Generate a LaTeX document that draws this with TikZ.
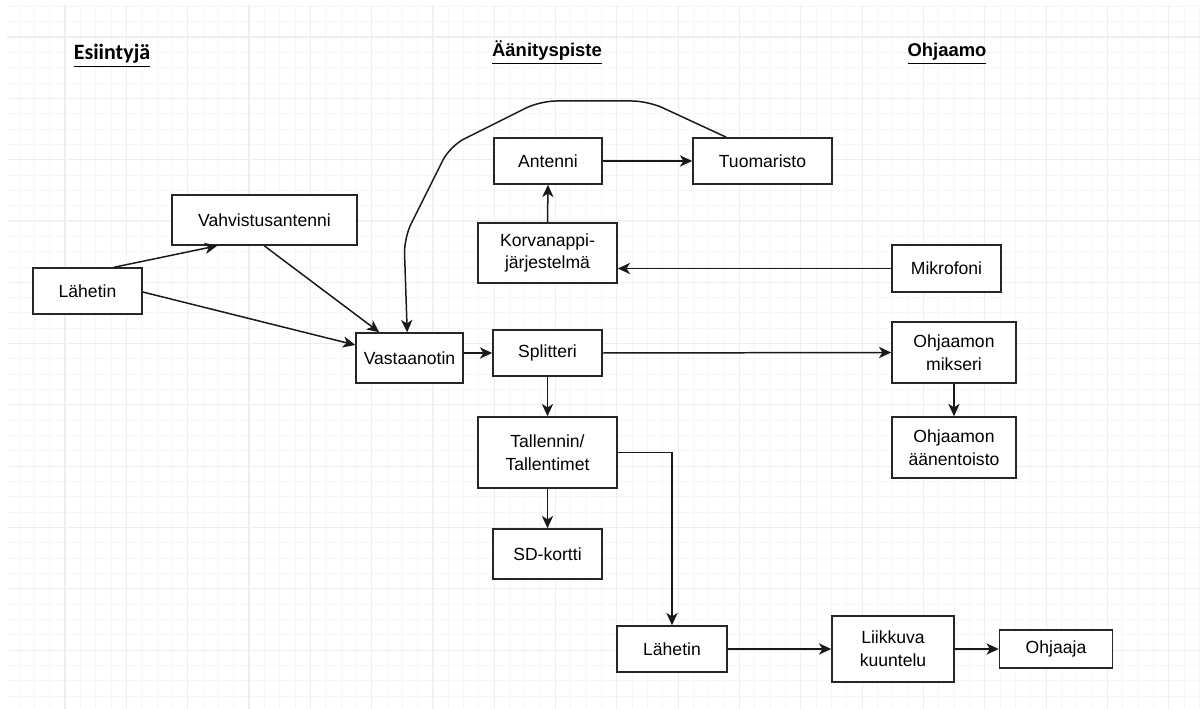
\documentclass[tikz,border=0pt]{standalone}
\usepackage{fontspec}
\setmainfont{Liberation Sans}
\newfontfamily\calibri{Carlito}
\usepackage{xcolor}
\usetikzlibrary{arrows.meta, calc}

\definecolor{gridminor}{HTML}{F6F6F6}
\definecolor{gridmajor}{HTML}{EEEEEE}

\tikzset{
  box/.style={draw=black!85, line width=0.9pt, fill=white, align=center,
    font=\fontsize{10}{13}\selectfont, inner sep=2pt},
  arr/.style={-{Stealth[length=7pt,width=6.4pt,inset=2pt]}, line width=0.85pt, black!90},
  header/.style={anchor=base, font=\bfseries\fontsize{10.5}{12}\selectfont}
}

\begin{document}
\begin{tikzpicture}[x=0.02cm,y=-0.02cm]
\useasboundingbox (0,0) rectangle (1200,709);

% Grid
\begin{scope}
\clip (7,6) rectangle (1200,709);
\foreach \i in {0,...,78} \draw[gridminor, line width=0.5pt] ({3.7+15.33*\i},0) -- ++(0,720);
\foreach \j in {0,...,46} \draw[gridminor, line width=0.5pt] (0,{6.34+15.33*\j}) -- ++(1210,0);
\foreach \i in {0,...,19} \draw[gridmajor, line width=0.6pt] ({3.7+61.32*\i},0) -- ++(0,720);
\foreach \j in {-1,...,11} \draw[gridmajor, line width=0.6pt] (0,{37+61.32*\j}) -- ++(1210,0);
\end{scope}

% Headers
\node[header, font=\calibri\bfseries\fontsize{12.5}{14}\selectfont] (hEsi) at (112,60) {\underline{Esiintyjä}};
\node[header] (hAan) at (547,57) {\underline{Äänityspiste}};
\node[header] (hOhj) at (947,57) {\underline{Ohjaamo}};

% Boxes
\node[box, minimum width=3.7cm, minimum height=1.0cm] (vahv) at (264.5,220) {Vahvistusantenni};
\node[box, minimum width=2.18cm, minimum height=0.92cm] (lah1) at (87.5,291) {Lähetin};
\node[box, minimum width=2.14cm, minimum height=1.0cm] (vast) at (409.5,358) {Vastaanotin};
\node[box, minimum width=2.18cm, minimum height=0.92cm] (split) at (547.5,353) {Splitteri};
\node[box, minimum width=2.78cm, minimum height=1.42cm] (tall) at (547.5,452.5) {Tallennin/\\Tallentimet};
\node[box, minimum width=2.18cm, minimum height=1.0cm] (sd) at (547.5,554) {SD-kortti};
\node[box, minimum width=2.16cm, minimum height=0.92cm] (ant) at (548,161) {Antenni};
\node[box, minimum width=2.78cm, minimum height=0.92cm] (tuom) at (762.5,161) {Tuomaristo};
\node[box, minimum width=2.78cm, minimum height=1.2cm] (korv) at (547.5,253) {Korvanappi-\\järjestelmä};
\node[box, minimum width=2.18cm, minimum height=0.94cm] (mik) at (946.5,268.5) {Mikrofoni};
\node[box, minimum width=2.48cm, minimum height=1.22cm] (miks) at (954,352.5) {Ohjaamon\\mikseri};
\node[box, minimum width=2.48cm, minimum height=1.22cm] (toisto) at (954,447.5) {Ohjaamon\\äänentoisto};
\node[box, minimum width=2.2cm, minimum height=0.92cm] (lah2) at (672,649) {Lähetin};
\node[box, minimum width=2.44cm, minimum height=1.32cm] (liik) at (893,649) {Liikkuva\\kuuntelu};
\node[box, minimum width=2.26cm, minimum height=0.76cm] (ohj) at (1056,649) {Ohjaaja};

% Connectors
\draw[arr] ($(lah1.north west)+(82,0)$) -- ($(vahv.south west)+(46,0)$);
\draw[arr] ($(lah1.east)+(0,1)$) -- ($(vast.west)+(0,-13)$);
\draw[arr] ($(vahv.south west)+(93,0)$) -- ($(vast.north west)+(24,0)$);
\draw[arr, rounded corners=9pt] ($(tuom.north west)+(34,0)$) -- (648,101) -- (540,101)
  -- (450,146) -- (404,238) -- ($(vast.north west)+(52,0)$);
\draw[arr] (vast.east |- split.west) -- (split.west);
\draw[arr] (split.east) -- (miks.west);
\draw[arr] (split.south) -- (tall.north);
\draw[arr] (tall.south) -- (sd.north);
\draw[arr] (tall.east) -| (lah2.north);
\draw[arr] (lah2.east) -- (liik.west);
\draw[arr] (liik.east) -- (ohj.west);
\draw[arr] (mik.west) -- (mik.west -| korv.east);
\draw[arr] (korv.north) -- (ant.south);
\draw[arr] (ant.east) -- (tuom.west);
\draw[arr] (miks.south) -- (toisto.north);

\end{tikzpicture}
\end{document}
